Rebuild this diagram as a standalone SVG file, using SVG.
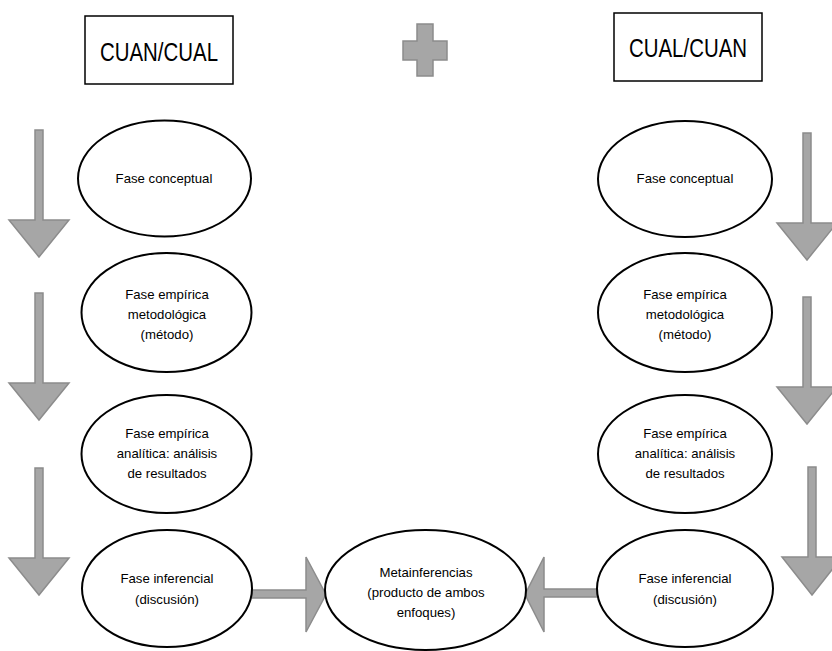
<svg xmlns="http://www.w3.org/2000/svg" width="832" height="651" viewBox="0 0 832 651">
<style>
.box{fill:#fff;stroke:#000;stroke-width:1.5}
.node{fill:#fff;stroke:#000;stroke-width:2}
.arr{fill:#a6a6a6;stroke:#8c8c8c;stroke-width:1.5;stroke-linejoin:miter}
.h{font-family:"Liberation Sans",Arial,sans-serif;font-size:25px;fill:#000;text-anchor:middle}
.t{font-family:"Liberation Sans",Arial,sans-serif;font-size:13.2px;fill:#000;text-anchor:middle}
</style>
<rect width="832" height="651" fill="#fff"/>
<g id="cuan-cual">
<rect class="box" x="85" y="16" width="148" height="68"/>
<text class="h" x="159" y="61" textLength="118" lengthAdjust="spacingAndGlyphs">CUAN/CUAL</text>
</g>
<g id="plus">
<path class="arr" d="M417,24 H433 V41 H447 V60 H433 V76 H417 V60 H403 V41 H417 Z"/>
</g>
<g id="cual-cuan">
<rect class="box" x="614" y="13" width="148" height="68"/>
<text class="h" x="688" y="57" textLength="118" lengthAdjust="spacingAndGlyphs">CUAL/CUAN</text>
</g>
<g id="connectors">
<path class="arr" d="M35,130 H43 V220 H69 L39,257 L9,220 H35 Z"/>
<path class="arr" d="M35,293 H43 V383 H69 L39,420 L9,383 H35 Z"/>
<path class="arr" d="M35,468 H43 V558 H69 L39,595 L9,558 H35 Z"/>
<path class="arr" d="M803,133 H811 V223 H837 L807,260 L777,223 H803 Z"/>
<path class="arr" d="M803,297 H811 V387 H837 L807,424 L777,387 H803 Z"/>
<path class="arr" d="M808,467 H816 V557 H842 L812,595 L782,557 H808 Z"/>
<path class="arr" d="M252,590 H306 V557 L326,594.5 L306,632 V598 H252 Z"/>
<path class="arr" d="M597,589 H544 V557 L525,594.5 L544,632 V597 H597 Z"/>
</g>
<g id="l-conceptual">
<ellipse class="node" cx="164.5" cy="178.5" rx="86.5" ry="58"/>
<text class="t" x="164" y="183">Fase conceptual</text>
</g>
<g id="l-metodologica">
<ellipse class="node" cx="166.5" cy="312.5" rx="85" ry="59.5"/>
<text class="t" x="167" y="299">Fase empírica</text>
<text class="t" x="167" y="319">metodológica</text>
<text class="t" x="167" y="339">(método)</text>
</g>
<g id="l-analitica">
<ellipse class="node" cx="166.5" cy="454" rx="85" ry="59"/>
<text class="t" x="167" y="438">Fase empírica</text>
<text class="t" x="167" y="458">analítica: análisis</text>
<text class="t" x="167" y="478">de resultados</text>
</g>
<g id="l-inferencial">
<ellipse class="node" cx="167" cy="588.5" rx="85" ry="58.5"/>
<text class="t" x="167" y="583">Fase inferencial</text>
<text class="t" x="167" y="604">(discusión)</text>
</g>
<g id="metainferencias">
<ellipse class="node" cx="425.5" cy="590" rx="100.5" ry="60"/>
<text class="t" x="426" y="577">Metainferencias</text>
<text class="t" x="426" y="597">(producto de ambos</text>
<text class="t" x="426" y="617">enfoques)</text>
</g>
<g id="r-conceptual">
<ellipse class="node" cx="685" cy="179" rx="87" ry="58"/>
<text class="t" x="685" y="183">Fase conceptual</text>
</g>
<g id="r-metodologica">
<ellipse class="node" cx="685" cy="312.5" rx="87" ry="59.5"/>
<text class="t" x="685" y="299">Fase empírica</text>
<text class="t" x="685" y="319">metodológica</text>
<text class="t" x="685" y="339">(método)</text>
</g>
<g id="r-analitica">
<ellipse class="node" cx="685" cy="454" rx="87" ry="59"/>
<text class="t" x="685" y="438">Fase empírica</text>
<text class="t" x="685" y="458">analítica: análisis</text>
<text class="t" x="685" y="478">de resultados</text>
</g>
<g id="r-inferencial">
<ellipse class="node" cx="685" cy="588.5" rx="88" ry="58.5"/>
<text class="t" x="685" y="583">Fase inferencial</text>
<text class="t" x="685" y="604">(discusión)</text>
</g>
</svg>
